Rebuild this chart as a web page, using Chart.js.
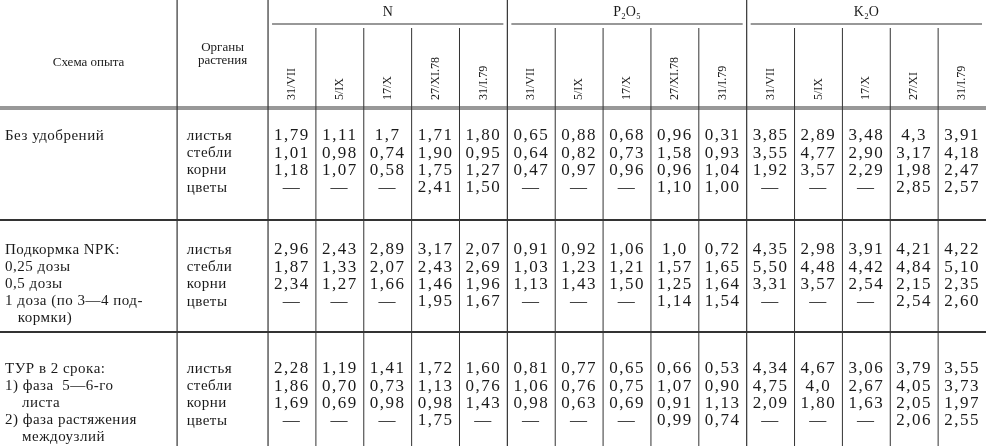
<!DOCTYPE html>
<html><head><meta charset="utf-8">
<script src="https://cdn.jsdelivr.net/npm/chart.js@4/dist/chart.umd.min.js"></script>
<style>html,body{margin:0;padding:0;background:#fff}</style>
</head><body>
<canvas id="c" width="986" height="446"></canvas>
<script>
const elements = ["N", "P₂O₅", "K₂O"];
const dates = [
  ["31/VII","5/IX","17/X","27/XI.78","31/I.79"],
  ["31/VII","5/IX","17/X","27/XI.78","31/I.79"],
  ["31/VII","5/IX","17/X","27/XI","31/I.79"]
];
const organs = ["листья","стебли","корни","цветы"];
const schemes = [
  ["Без удобрений"],
  ["Подкормка NPK:","0,25 дозы","0,5 дозы","1 доза (по 3—4 под-","   кормки)"],
  ["ТУР в 2 срока:","1) фаза  5—6-го","    листа","2) фаза растяжения","    междоузлий"]
];
const g1 = [
  ["1,79","1,11","1,7","1,71","1,80","0,65","0,88","0,68","0,96","0,31","3,85","2,89","3,48","4,3","3,91"],
  ["1,01","0,98","0,74","1,90","0,95","0,64","0,82","0,73","1,58","0,93","3,55","4,77","2,90","3,17","4,18"],
  ["1,18","1,07","0,58","1,75","1,27","0,47","0,97","0,96","0,96","1,04","1,92","3,57","2,29","1,98","2,47"],
  ["—","—","—","2,41","1,50","—","—","—","1,10","1,00","—","—","—","2,85","2,57"]
];
const g2 = [
  ["2,96","2,43","2,89","3,17","2,07","0,91","0,92","1,06","1,0","0,72","4,35","2,98","3,91","4,21","4,22"],
  ["1,87","1,33","2,07","2,43","2,69","1,03","1,23","1,21","1,57","1,65","5,50","4,48","4,42","4,84","5,10"],
  ["2,34","1,27","1,66","1,46","1,96","1,13","1,43","1,50","1,25","1,64","3,31","3,57","2,54","2,15","2,35"],
  ["—","—","—","1,95","1,67","—","—","—","1,14","1,54","—","—","—","2,54","2,60"]
];
const g3 = [
  ["2,28","1,19","1,41","1,72","1,60","0,81","0,77","0,65","0,66","0,53","4,34","4,67","3,06","3,79","3,55"],
  ["1,86","0,70","0,73","1,13","0,76","1,06","0,76","0,75","1,07","0,90","4,75","4,0","2,67","4,05","3,73"],
  ["1,69","0,69","0,98","0,98","1,43","0,98","0,63","0,69","0,91","1,13","2,09","1,80","1,63","2,05","1,97"],
  ["—","—","—","1,75","—","—","—","—","0,99","0,74","—","—","—","2,06","2,55"]
];
const groups = [g1, g2, g3];

// layout (row units)
const groupBase = [6.8, 12.5, 18.45];
const rowStep = 0.86;
const textStep = 0.85;
const sepY = [5.35, 11.0, 16.6];
const pts = [];
groups.forEach((g, gi) => g.forEach((row, ri) => row.forEach((v, ci) => {
  pts.push({x: ci + 0.5, y: groupBase[gi] + ri * rowStep, t: v});
})));

const ink = '#1a1a1a';
const tablePlugin = {
  id: 'table',
  afterDatasetsDraw(chart) {
    const c = chart.ctx, X = chart.scales.x, Y = chart.scales.y;
    const px = v => X.getPixelForValue(v), py = v => Y.getPixelForValue(v);
    c.save();
    c.strokeStyle = '#333'; c.fillStyle = ink;
    const line = (x1,y1,x2,y2,w) => { c.lineWidth = w; c.beginPath(); c.moveTo(x1,y1); c.lineTo(x2,y2); c.stroke(); };
    const top = py(0), bot = py(22.3);
    line(px(-1.9), top, px(-1.9), bot, 1.2);
    line(px(0), top, px(0), bot, 1.2);
    for (let i = 1; i < 15; i++) {
      const major = i % 5 === 0;
      line(px(i), major ? top : py(1.4), px(i), bot, major ? 1.2 : 1);
    }
    for (let k = 0; k < 3; k++) line(px(k*5)+4, py(1.2), px(k*5+5)-4, py(1.2), 1.2);
    line(0, py(sepY[0]), 986, py(sepY[0]), 1.2);
    line(0, py(sepY[0])+2, 986, py(sepY[0])+2, 1);
    line(0, py(sepY[1]), 986, py(sepY[1]), 1.8);
    line(0, py(sepY[2]), 986, py(sepY[2]), 1.8);
    c.textAlign = 'center'; c.textBaseline = 'middle';
    c.font = '13px "Liberation Serif", "DejaVu Serif", serif';
    c.fillText('Схема опыта', px(-3.75), py(3.15));
    c.fillText('Органы', px(-0.95), py(2.4));
    c.fillText('растения', px(-0.95), py(3.05));
    c.font = '14px "Liberation Serif", serif';
    elements.forEach((e, k) => c.fillText(e, px(k*5+2.5), py(0.6)));
    c.font = '12px "Liberation Serif", serif';
    c.textAlign = 'left';
    dates.forEach((ds, k) => ds.forEach((d, i) => {
      c.save(); c.translate(px(k*5+i+0.5), py(5.0)); c.rotate(-Math.PI/2);
      c.fillText(d, 0, 0); c.restore();
    }));
    c.font = '15px "Liberation Serif", serif';
    c.letterSpacing = '0.5px';
    schemes.forEach((s, gi) => s.forEach((t, ri) => c.fillText(t, 5, py(groupBase[gi] + ri * textStep))));
    groups.forEach((g, gi) => organs.forEach((o, ri) => c.fillText(o, px(-1.7), py(groupBase[gi] + ri * rowStep))));
    c.textAlign = 'center';
    c.font = '17px "Liberation Serif", serif';
    c.letterSpacing = '1.5px';
    const meta = chart.getDatasetMeta(0);
    meta.data.forEach((el, i) => c.fillText(pts[i].t, el.x, el.y));
    c.restore();
  }
};

new Chart(document.getElementById('c'), {
  type: 'scatter',
  data: { datasets: [{ data: pts.map(p => ({x: p.x, y: p.y})), pointRadius: 0, pointHoverRadius: 0 }] },
  options: {
    responsive: false, animation: false, events: [],
    layout: { padding: 0 },
    plugins: { legend: { display: false }, tooltip: { enabled: false } },
    scales: {
      x: { type: 'linear', display: false, min: -5.6, max: 15 },
      y: { type: 'linear', display: false, min: 0, max: 22.3, reverse: true }
    }
  },
  plugins: [tablePlugin]
});
</script>
</body></html>
